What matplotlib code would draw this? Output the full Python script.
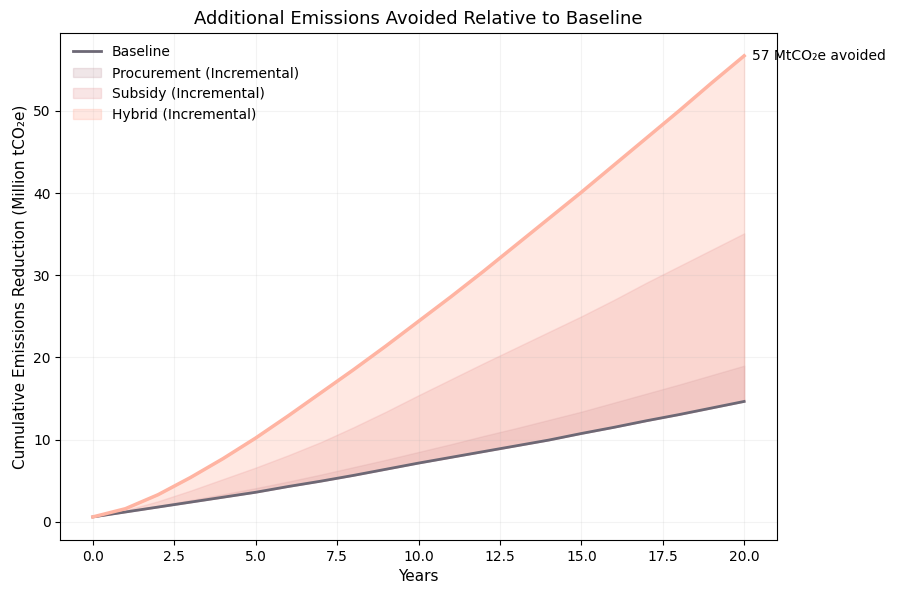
import numpy as np
import matplotlib
matplotlib.use('Agg')
import matplotlib.pyplot as plt

years = list(range(21))
baseline = [0.6, 1.2, 1.8, 2.4, 3.0, 3.6, 4.3, 4.95, 5.65, 6.4, 7.15,
            7.85, 8.55, 9.25, 9.95, 10.75, 11.5, 12.3, 13.05, 13.85, 14.65]
procurement = [0.6, 1.25, 1.95, 2.65, 3.35, 4.1, 4.9, 5.75, 6.65, 7.55, 8.5,
               9.45, 10.45, 11.4, 12.4, 13.4, 14.5, 15.6, 16.7, 17.85, 19.0]
subsidy = [0.6, 1.4, 2.5, 3.8, 5.2, 6.6, 8.1, 9.7, 11.5, 13.4, 15.4,
           17.35, 19.3, 21.2, 23.1, 25.0, 27.0, 29.1, 31.1, 33.1, 35.1]
hybrid = [0.6, 1.6, 3.3, 5.4, 7.7, 10.2, 12.9, 15.7, 18.5, 21.4, 24.4,
          27.4, 30.5, 33.7, 36.9, 40.1, 43.4, 46.7, 50.0, 53.4, 56.7]

fig = plt.figure(figsize=(9, 5.96), dpi=100)
ax = fig.add_axes([0.067, 0.094, 0.796, 0.851])

ax.plot(years, baseline, color='#6d6875', lw=2, label='Baseline')
ax.fill_between(years, baseline, procurement, color='#b5838d', alpha=0.2,
                label='Procurement (Incremental)')
ax.fill_between(years, baseline, subsidy, color='#e5989b', alpha=0.25,
                label='Subsidy (Incremental)')
ax.fill_between(years, baseline, hybrid, color='#ffb4a2', alpha=0.3,
                label='Hybrid (Incremental)')
ax.plot(years, hybrid, color='#ffb4a2', lw=2.5)

ax.annotate(f'{hybrid[-1]:.0f} MtCO\u2082e avoided', xy=(years[-1], hybrid[-1]),
            xytext=(6, 0), textcoords='offset points', va='center', fontsize=10)

ax.set_title('Additional Emissions Avoided Relative to Baseline', fontsize=13)
ax.set_xlabel('Years', fontsize=11)
ax.set_ylabel('Cumulative Emissions Reduction (Million tCO\u2082e)', fontsize=11)
ax.grid(True, alpha=0.15)
ax.legend(loc='upper left', frameon=False, fontsize=10)

fig.savefig('out.png', dpi=100)
